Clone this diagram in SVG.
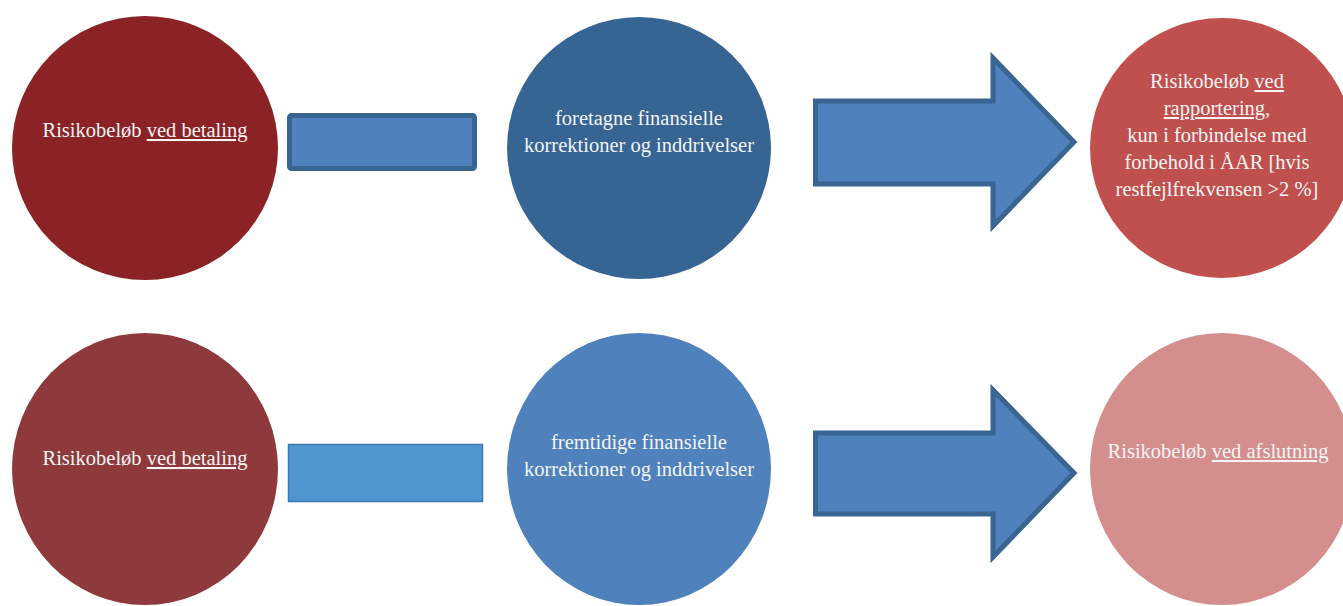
<svg xmlns="http://www.w3.org/2000/svg" width="1343" height="606" viewBox="0 0 1343 606">
<style>
text{font-family:"Liberation Serif","Times New Roman",serif;font-size:20.5px;fill:#F4F4F4;text-anchor:middle}
.u{text-decoration:underline}
.arrow{fill:#4F81BD;stroke:#386591;stroke-width:5;stroke-linejoin:miter}
</style>
<rect width="1343" height="606" fill="#FFFFFF"/>
<g id="n1">
<ellipse cx="145" cy="148" rx="133" ry="132" fill="#8B2226"/>
<text x="145" y="137">Risikobeløb <tspan class="u">ved betaling</tspan></text>
</g>
<g id="n2">
<ellipse cx="639" cy="148" rx="132" ry="131" fill="#376593"/>
<text x="639" y="125">foretagne finansielle</text>
<text x="639" y="152">korrektioner og inddrivelser</text>
</g>
<g id="n3">
<ellipse cx="1222" cy="148" rx="132" ry="130" fill="#C0504D"/>
<text x="1217" y="88">Risikobeløb <tspan class="u">ved </tspan></text>
<text x="1217" y="115"><tspan class="u">rapportering</tspan>,</text>
<text x="1217" y="142">kun i forbindelse med</text>
<text x="1217" y="169">forbehold i ÅAR [hvis</text>
<text x="1217" y="196">restfejlfrekvensen &gt;2 %]</text>
</g>
<g id="n4">
<ellipse cx="145" cy="469" rx="133" ry="136" fill="#8E3A3D"/>
<text x="145" y="465">Risikobeløb <tspan class="u">ved betaling</tspan></text>
</g>
<g id="n5">
<ellipse cx="639" cy="469" rx="132" ry="136" fill="#4F81BD"/>
<text x="639" y="449">fremtidige finansielle</text>
<text x="639" y="476">korrektioner og inddrivelser</text>
</g>
<g id="n6">
<ellipse cx="1222" cy="469" rx="132" ry="136" fill="#D58E8E"/>
<text x="1218" y="458">Risikobeløb <tspan class="u">ved afslutning</tspan></text>
</g>
<g id="connectors">
<rect x="289.5" y="115.5" width="185" height="53" rx="2" fill="#4F81BD" stroke="#386591" stroke-width="5"/>
<rect x="288.5" y="444.5" width="194" height="57" fill="#4F96D0" stroke="#4178B0" stroke-width="1.5"/>
<path class="arrow" d="M815.5,101 L993,101 L993,58 L1074,142 L993,226 L993,184 L815.5,184 Z"/>
<path class="arrow" d="M815.5,433 L993,433 L993,390 L1074,473 L993,557 L993,514 L815.5,514 Z"/>
</g>
</svg>
